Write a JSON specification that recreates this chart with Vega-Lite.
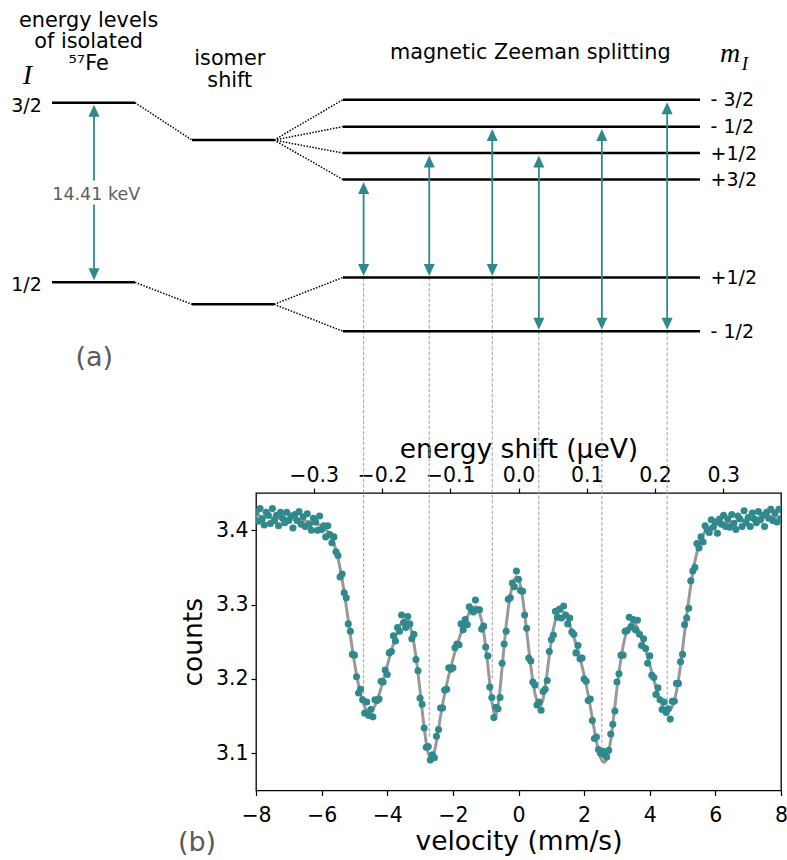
{
  "$schema": "https://vega.github.io/schema/vega-lite/v6.json",
  "width": 525,
  "height": 297.5,
  "autosize": {"type": "none"},
  "padding": {"left": 256, "top": 493, "right": 6, "bottom": 69.5},
  "config": {
    "font": "DejaVu Sans",
    "view": {"stroke": "#000000", "strokeWidth": 1.3},
    "axis": {
      "domain": false, "grid": false,
      "tickColor": "#000000", "tickSize": 5, "tickWidth": 1.2,
      "labelColor": "#000000", "labelFontSize": 20.5, "labelFont": "DejaVu Sans",
      "labelFlush": false, "labelOverlap": false, "labelPadding": 3,
      "titleFont": "DejaVu Sans", "titleFontSize": 26.5, "titleFontWeight": "normal", "titleColor": "#000000"
    }
  },
  "datasets": {
    "spec": [
      {"v":-8,"f":3.419,"c":3.424},{"v":-7.9375,"f":3.419,"c":3.412},{"v":-7.875,"f":3.419,"c":3.429},{"v":-7.8125,"f":3.418,"c":3.415},
      {"v":-7.75,"f":3.418,"c":3.407},{"v":-7.6875,"f":3.418,"c":3.424},{"v":-7.625,"f":3.418,"c":3.420},{"v":-7.5625,"f":3.417,"c":3.409},
      {"v":-7.5,"f":3.417,"c":3.429},{"v":-7.4375,"f":3.417,"c":3.413},{"v":-7.375,"f":3.417,"c":3.420},{"v":-7.3125,"f":3.416,"c":3.406},
      {"v":-7.25,"f":3.416,"c":3.424},{"v":-7.1875,"f":3.416,"c":3.416},{"v":-7.125,"f":3.416,"c":3.410},{"v":-7.0625,"f":3.415,"c":3.424},
      {"v":-7,"f":3.415,"c":3.413},{"v":-6.9375,"f":3.415,"c":3.419},{"v":-6.875,"f":3.415,"c":3.403},{"v":-6.8125,"f":3.414,"c":3.421},
      {"v":-6.75,"f":3.414,"c":3.413},{"v":-6.6875,"f":3.414,"c":3.425},{"v":-6.625,"f":3.413,"c":3.408},{"v":-6.5625,"f":3.413,"c":3.418},
      {"v":-6.5,"f":3.412,"c":3.405},{"v":-6.4375,"f":3.412,"c":3.422},{"v":-6.375,"f":3.411,"c":3.408},{"v":-6.3125,"f":3.411,"c":3.400},
      {"v":-6.25,"f":3.410,"c":3.416},{"v":-6.1875,"f":3.409,"c":3.411},{"v":-6.125,"f":3.408,"c":3.400},{"v":-6.0625,"f":3.407,"c":3.419},
      {"v":-6,"f":3.405,"c":3.401},{"v":-5.9375,"f":3.403,"c":3.406},{"v":-5.875,"f":3.401,"c":3.391},{"v":-5.8125,"f":3.398,"c":3.406},
      {"v":-5.75,"f":3.394,"c":3.394},{"v":-5.6875,"f":3.389,"c":3.383},{"v":-5.625,"f":3.382,"c":3.391},{"v":-5.5625,"f":3.373,"c":3.371},
      {"v":-5.5,"f":3.362,"c":3.366},{"v":-5.4375,"f":3.349,"c":3.337},{"v":-5.375,"f":3.334,"c":3.341},{"v":-5.3125,"f":3.317,"c":3.316},
      {"v":-5.25,"f":3.298,"c":3.309},{"v":-5.1875,"f":3.279,"c":3.274},{"v":-5.125,"f":3.259,"c":3.264},{"v":-5.0625,"f":3.240,"c":3.233},
      {"v":-5,"f":3.222,"c":3.232},{"v":-4.9375,"f":3.206,"c":3.203},{"v":-4.875,"f":3.192,"c":3.181},{"v":-4.8125,"f":3.180,"c":3.186},
      {"v":-4.75,"f":3.170,"c":3.172},{"v":-4.6875,"f":3.162,"c":3.154},{"v":-4.625,"f":3.157,"c":3.169},{"v":-4.5625,"f":3.155,"c":3.151},
      {"v":-4.5,"f":3.156,"c":3.159},{"v":-4.4375,"f":3.159,"c":3.149},{"v":-4.375,"f":3.164,"c":3.172},{"v":-4.3125,"f":3.171,"c":3.171},
      {"v":-4.25,"f":3.179,"c":3.173},{"v":-4.1875,"f":3.188,"c":3.197},{"v":-4.125,"f":3.198,"c":3.196},{"v":-4.0625,"f":3.208,"c":3.212},
      {"v":-4,"f":3.218,"c":3.206},{"v":-3.9375,"f":3.228,"c":3.235},{"v":-3.875,"f":3.238,"c":3.237},{"v":-3.8125,"f":3.247,"c":3.258},
      {"v":-3.75,"f":3.256,"c":3.251},{"v":-3.6875,"f":3.264,"c":3.269},{"v":-3.625,"f":3.271,"c":3.264},{"v":-3.5625,"f":3.276,"c":3.286},
      {"v":-3.5,"f":3.279,"c":3.276},{"v":-3.4375,"f":3.280,"c":3.269},{"v":-3.375,"f":3.278,"c":3.284},{"v":-3.3125,"f":3.272,"c":3.274},
      {"v":-3.25,"f":3.262,"c":3.254},{"v":-3.1875,"f":3.248,"c":3.260},{"v":-3.125,"f":3.230,"c":3.226},{"v":-3.0625,"f":3.208,"c":3.211},
      {"v":-3,"f":3.184,"c":3.174},{"v":-2.9375,"f":3.158,"c":3.166},{"v":-2.875,"f":3.134,"c":3.134},{"v":-2.8125,"f":3.114,"c":3.108},
      {"v":-2.75,"f":3.100,"c":3.109},{"v":-2.6875,"f":3.093,"c":3.091},{"v":-2.625,"f":3.094,"c":3.098},{"v":-2.5625,"f":3.102,"c":3.094},
      {"v":-2.5,"f":3.116,"c":3.123},{"v":-2.4375,"f":3.133,"c":3.132},{"v":-2.375,"f":3.150,"c":3.161},{"v":-2.3125,"f":3.166,"c":3.161},
      {"v":-2.25,"f":3.180,"c":3.185},{"v":-2.1875,"f":3.193,"c":3.186},{"v":-2.125,"f":3.205,"c":3.215},{"v":-2.0625,"f":3.216,"c":3.213},
      {"v":-2,"f":3.226,"c":3.215},{"v":-1.9375,"f":3.236,"c":3.242},{"v":-1.875,"f":3.245,"c":3.247},{"v":-1.8125,"f":3.254,"c":3.246},
      {"v":-1.75,"f":3.262,"c":3.274},{"v":-1.6875,"f":3.270,"c":3.266},{"v":-1.625,"f":3.277,"c":3.280},{"v":-1.5625,"f":3.283,"c":3.273},
      {"v":-1.5,"f":3.289,"c":3.297},{"v":-1.4375,"f":3.293,"c":3.293},{"v":-1.375,"f":3.296,"c":3.290},{"v":-1.3125,"f":3.297,"c":3.306},
      {"v":-1.25,"f":3.295,"c":3.293},{"v":-1.1875,"f":3.289,"c":3.293},{"v":-1.125,"f":3.279,"c":3.267},{"v":-1.0625,"f":3.264,"c":3.271},
      {"v":-1,"f":3.244,"c":3.243},{"v":-0.9375,"f":3.220,"c":3.231},{"v":-0.875,"f":3.194,"c":3.189},{"v":-0.8125,"f":3.170,"c":3.175},
      {"v":-0.75,"f":3.155,"c":3.148},{"v":-0.6875,"f":3.152,"c":3.162},{"v":-0.625,"f":3.163,"c":3.160},{"v":-0.5625,"f":3.186,"c":3.175},
      {"v":-0.5,"f":3.215,"c":3.221},{"v":-0.4375,"f":3.245,"c":3.247},{"v":-0.375,"f":3.272,"c":3.264},{"v":-0.3125,"f":3.295,"c":3.307},
      {"v":-0.25,"f":3.313,"c":3.309},{"v":-0.1875,"f":3.326,"c":3.329},{"v":-0.125,"f":3.334,"c":3.324},{"v":-0.0625,"f":3.337,"c":3.345},
      {"v":0,"f":3.334,"c":3.334},{"v":0.0625,"f":3.325,"c":3.319},{"v":0.125,"f":3.309,"c":3.318},{"v":0.1875,"f":3.288,"c":3.286},
      {"v":0.25,"f":3.264,"c":3.268},{"v":0.3125,"f":3.240,"c":3.228},{"v":0.375,"f":3.217,"c":3.224},{"v":0.4375,"f":3.197,"c":3.196},
      {"v":0.5,"f":3.181,"c":3.192},{"v":0.5625,"f":3.170,"c":3.165},{"v":0.625,"f":3.164,"c":3.169},{"v":0.6875,"f":3.165,"c":3.158},
      {"v":0.75,"f":3.173,"c":3.183},{"v":0.8125,"f":3.189,"c":3.186},{"v":0.875,"f":3.209,"c":3.198},{"v":0.9375,"f":3.231,"c":3.237},
      {"v":1,"f":3.251,"c":3.253},{"v":1.0625,"f":3.267,"c":3.259},{"v":1.125,"f":3.279,"c":3.291},{"v":1.1875,"f":3.287,"c":3.283},
      {"v":1.25,"f":3.291,"c":3.294},{"v":1.3125,"f":3.292,"c":3.282},{"v":1.375,"f":3.290,"c":3.298},{"v":1.4375,"f":3.286,"c":3.286},
      {"v":1.5,"f":3.280,"c":3.274},{"v":1.5625,"f":3.273,"c":3.282},{"v":1.625,"f":3.265,"c":3.263},{"v":1.6875,"f":3.256,"c":3.260},
      {"v":1.75,"f":3.247,"c":3.235},{"v":1.8125,"f":3.238,"c":3.245},{"v":1.875,"f":3.228,"c":3.227},{"v":1.9375,"f":3.217,"c":3.228},
      {"v":2,"f":3.205,"c":3.200},{"v":2.0625,"f":3.192,"c":3.197},{"v":2.125,"f":3.178,"c":3.171},{"v":2.1875,"f":3.163,"c":3.173},
      {"v":2.25,"f":3.147,"c":3.144},{"v":2.3125,"f":3.131,"c":3.120},{"v":2.375,"f":3.116,"c":3.122},{"v":2.4375,"f":3.103,"c":3.105},
      {"v":2.5,"f":3.094,"c":3.100},{"v":2.5625,"f":3.089,"c":3.103},{"v":2.625,"f":3.088,"c":3.098},{"v":2.6875,"f":3.092,"c":3.095},
      {"v":2.75,"f":3.102,"c":3.104},{"v":2.8125,"f":3.118,"c":3.126},{"v":2.875,"f":3.139,"c":3.139},{"v":2.9375,"f":3.163,"c":3.157},
      {"v":3,"f":3.187,"c":3.196},{"v":3.0625,"f":3.209,"c":3.207},{"v":3.125,"f":3.228,"c":3.232},{"v":3.1875,"f":3.244,"c":3.232},
      {"v":3.25,"f":3.257,"c":3.264},{"v":3.3125,"f":3.266,"c":3.265},{"v":3.375,"f":3.272,"c":3.283},{"v":3.4375,"f":3.275,"c":3.270},
      {"v":3.5,"f":3.275,"c":3.280},{"v":3.5625,"f":3.273,"c":3.266},{"v":3.625,"f":3.269,"c":3.279},{"v":3.6875,"f":3.263,"c":3.260},
      {"v":3.75,"f":3.256,"c":3.245},{"v":3.8125,"f":3.248,"c":3.254},{"v":3.875,"f":3.239,"c":3.241},{"v":3.9375,"f":3.229,"c":3.221},
      {"v":4,"f":3.219,"c":3.231},{"v":4.0625,"f":3.209,"c":3.205},{"v":4.125,"f":3.199,"c":3.202},{"v":4.1875,"f":3.189,"c":3.179},
      {"v":4.25,"f":3.180,"c":3.188},{"v":4.3125,"f":3.172,"c":3.172},{"v":4.375,"f":3.165,"c":3.159},{"v":4.4375,"f":3.160,"c":3.169},
      {"v":4.5,"f":3.157,"c":3.155},{"v":4.5625,"f":3.156,"c":3.160},{"v":4.625,"f":3.158,"c":3.146},{"v":4.6875,"f":3.163,"c":3.170},
      {"v":4.75,"f":3.171,"c":3.170},{"v":4.8125,"f":3.183,"c":3.194},{"v":4.875,"f":3.199,"c":3.194},{"v":4.9375,"f":3.218,"c":3.223},
      {"v":5,"f":3.240,"c":3.233},{"v":5.0625,"f":3.263,"c":3.273},{"v":5.125,"f":3.285,"c":3.282},{"v":5.1875,"f":3.306,"c":3.295},
      {"v":5.25,"f":3.326,"c":3.332},{"v":5.3125,"f":3.343,"c":3.345},{"v":5.375,"f":3.358,"c":3.350},{"v":5.4375,"f":3.370,"c":3.382},
      {"v":5.5,"f":3.380,"c":3.376},{"v":5.5625,"f":3.388,"c":3.391},{"v":5.625,"f":3.394,"c":3.384},{"v":5.6875,"f":3.398,"c":3.406},
      {"v":5.75,"f":3.401,"c":3.401},{"v":5.8125,"f":3.403,"c":3.397},{"v":5.875,"f":3.405,"c":3.414},{"v":5.9375,"f":3.406,"c":3.404},
      {"v":6,"f":3.407,"c":3.411},{"v":6.0625,"f":3.408,"c":3.396},{"v":6.125,"f":3.408,"c":3.415},{"v":6.1875,"f":3.409,"c":3.408},
      {"v":6.25,"f":3.409,"c":3.420},{"v":6.3125,"f":3.410,"c":3.405},{"v":6.375,"f":3.410,"c":3.415},{"v":6.4375,"f":3.411,"c":3.404},
      {"v":6.5,"f":3.411,"c":3.421},{"v":6.5625,"f":3.412,"c":3.409},{"v":6.625,"f":3.412,"c":3.401},{"v":6.6875,"f":3.413,"c":3.419},
      {"v":6.75,"f":3.413,"c":3.415},{"v":6.8125,"f":3.413,"c":3.405},{"v":6.875,"f":3.414,"c":3.426},{"v":6.9375,"f":3.414,"c":3.410},
      {"v":7,"f":3.414,"c":3.417},{"v":7.0625,"f":3.415,"c":3.405},{"v":7.125,"f":3.415,"c":3.423},{"v":7.1875,"f":3.415,"c":3.415},
      {"v":7.25,"f":3.416,"c":3.410},{"v":7.3125,"f":3.416,"c":3.425},{"v":7.375,"f":3.416,"c":3.414},{"v":7.4375,"f":3.416,"c":3.420},
      {"v":7.5,"f":3.417,"c":3.405},{"v":7.5625,"f":3.417,"c":3.424},{"v":7.625,"f":3.417,"c":3.416},{"v":7.6875,"f":3.417,"c":3.428},
      {"v":7.75,"f":3.418,"c":3.413},{"v":7.8125,"f":3.418,"c":3.423},{"v":7.875,"f":3.418,"c":3.411},{"v":7.9375,"f":3.418,"c":3.428},
      {"v":8,"f":3.418,"c":3.415}
    ],
    "dashed": [
      {"v":-4.72,"c":3.7399,"c2":3.175},{"v":-2.72,"c":3.7399,"c2":3.12},{"v":-0.80,"c":3.7399,"c2":3.20},
      {"v":0.62,"c":3.6674,"c2":3.185},{"v":2.54,"c":3.6674,"c2":3.11},{"v":4.53,"c":3.6674,"c2":3.165}
    ],
    "levels": [
      {"v":-14.217,"v2":-11.688,"c":3.9748},{"v":-14.217,"v2":-11.688,"c":3.7332},
      {"v":-9.950,"v2":-7.451,"c":3.9245},{"v":-9.950,"v2":-7.451,"c":3.7037},
      {"v":-5.349,"v2":5.531,"c":3.9789},{"v":-5.349,"v2":5.531,"c":3.9426},{"v":-5.349,"v2":5.531,"c":3.9070},
      {"v":-5.349,"v2":5.531,"c":3.8715},{"v":-5.349,"v2":5.531,"c":3.7399},{"v":-5.349,"v2":5.531,"c":3.6674}
    ],
    "connectors": [
      {"v":-11.688,"c":3.9748,"v2":-9.950,"c2":3.9245},{"v":-11.688,"c":3.7332,"v2":-9.950,"c2":3.7037},
      {"v":-7.451,"c":3.9245,"v2":-5.349,"c2":3.9789},{"v":-7.451,"c":3.9245,"v2":-5.349,"c2":3.9426},
      {"v":-7.451,"c":3.9245,"v2":-5.349,"c2":3.9070},{"v":-7.451,"c":3.9245,"v2":-5.349,"c2":3.8715},
      {"v":-7.451,"c":3.7037,"v2":-5.349,"c2":3.7399},{"v":-7.451,"c":3.7037,"v2":-5.349,"c2":3.6674}
    ],
    "shafts": [
      {"v":-12.937,"c":3.9641,"c2":3.8701},{"v":-12.937,"c":3.8379,"c2":3.7439},
      {"v":-4.72,"c":3.8601,"c2":3.7499},{"v":-2.72,"c":3.8957,"c2":3.7499},{"v":-0.80,"c":3.9313,"c2":3.7499},
      {"v":0.62,"c":3.8957,"c2":3.6775},{"v":2.54,"c":3.9313,"c2":3.6775},{"v":4.53,"c":3.9675,"c2":3.6775}
    ],
    "headsUp": [
      {"v":-12.937,"c":3.9721},{"v":-4.72,"c":3.8681},{"v":-2.72,"c":3.9037},{"v":-0.80,"c":3.9393},
      {"v":0.62,"c":3.9037},{"v":2.54,"c":3.9393},{"v":4.53,"c":3.9755}
    ],
    "headsDown": [
      {"v":-12.937,"c":3.7359},{"v":-4.72,"c":3.7419},{"v":-2.72,"c":3.7419},{"v":-0.80,"c":3.7419},
      {"v":0.62,"c":3.6695},{"v":2.54,"c":3.6695},{"v":4.53,"c":3.6695}
    ],
    "headers": [
      {"v":-13.10,"c":4.0759,"t":"energy levels"},{"v":-13.10,"c":4.0483,"t":"of isolated"},{"v":-13.10,"c":4.0191,"t":"⁵⁷Fe"},
      {"v":-8.80,"c":4.0254,"t":"isomer"},{"v":-8.80,"c":3.9963,"t":"shift"},
      {"v":0.36,"c":4.0335,"t":"magnetic Zeeman splitting"}
    ],
    "leftLabels": [
      {"v":-14.53,"c":3.9628,"t":"3/2"},{"v":-14.53,"c":3.7218,"t":"1/2"}
    ],
    "rightLabels": [
      {"v":5.854,"c":3.9701,"t":"- 3/2"},{"v":5.854,"c":3.9339,"t":"- 1/2"},{"v":5.854,"c":3.8983,"t":"+1/2"},
      {"v":5.854,"c":3.8628,"t":"+3/2"},{"v":5.854,"c":3.7312,"t":"+1/2"},{"v":5.854,"c":3.6587,"t":"- 1/2"}
    ],
    "mathBig": [
      {"v":-14.964,"c":4.0,"t":"I"},{"v":6.45,"c":4.0289,"t":"m"}
    ],
    "mathSub": [
      {"v":6.80,"c":4.0187,"t":"I"}
    ],
    "energyLabel": [
      {"v":-12.87,"c":3.8433,"t":"14.41 keV"}
    ],
    "panelLabels": [
      {"v":-12.93,"c":3.6205,"t":"(a)"},{"v":-9.798,"c":2.9681,"t":"(b)"}
    ]
  },
  "layer": [
    {
      "data": {"name": "dashed"},
      "mark": {"type": "rule", "color": "#a0a0a0", "strokeWidth": 1, "strokeDash": [3.5, 1.8]},
      "encoding": {
        "x": {"field": "v", "type": "quantitative", "scale": {"domain": [-8, 8], "nice": false, "zero": false}, "axis": null},
        "y": {"field": "c", "type": "quantitative", "scale": {"domain": [3.05, 3.45], "nice": false, "zero": false}, "axis": null},
        "y2": {"field": "c2"}
      }
    },
    {
      "data": {"name": "spec"},
      "mark": {"type": "line", "color": "#999999", "strokeWidth": 3, "clip": true},
      "encoding": {
        "x": {"field": "v", "type": "quantitative", "scale": {"domain": [-8, 8], "nice": false, "zero": false},
              "axis": {"orient": "top", "values": [-6.2402, -4.1601, -2.0801, 0, 2.0801, 4.1601, 6.2402],
                       "labelExpr": "format(datum.value * 0.048075, '.1f')", "title": "energy shift (µeV)", "titlePadding": 2}},
        "y": {"field": "f", "type": "quantitative", "scale": {"domain": [3.05, 3.45], "nice": false, "zero": false}, "axis": null}
      }
    },
    {
      "data": {"name": "spec"},
      "mark": {"type": "circle", "color": "#2f898d", "opacity": 1, "size": 50, "clip": true},
      "encoding": {
        "x": {"field": "v", "type": "quantitative", "scale": {"domain": [-8, 8], "nice": false, "zero": false},
              "axis": {"values": [-8, -6, -4, -2, 0, 2, 4, 6, 8], "format": "d", "title": "velocity (mm/s)", "labelPadding": 10, "titlePadding": 2}},
        "y": {"field": "c", "type": "quantitative", "scale": {"domain": [3.05, 3.45], "nice": false, "zero": false},
              "axis": {"orient": "left", "values": [3.1, 3.2, 3.3, 3.4], "format": ".1f", "title": "counts", "titlePadding": 8}}
      }
    },
    {
      "data": {"name": "levels"},
      "mark": {"type": "rule", "color": "#000000", "strokeWidth": 2.5},
      "encoding": {
        "x": {"field": "v", "type": "quantitative", "scale": {"domain": [-8, 8], "nice": false, "zero": false}, "axis": null},
        "x2": {"field": "v2"},
        "y": {"field": "c", "type": "quantitative", "scale": {"domain": [3.05, 3.45], "nice": false, "zero": false}, "axis": null}
      }
    },
    {
      "data": {"name": "connectors"},
      "mark": {"type": "rule", "color": "#000000", "strokeWidth": 1.5, "strokeDash": [1.5, 1.5]},
      "encoding": {
        "x": {"field": "v", "type": "quantitative", "scale": {"domain": [-8, 8], "nice": false, "zero": false}, "axis": null},
        "x2": {"field": "v2"},
        "y": {"field": "c", "type": "quantitative", "scale": {"domain": [3.05, 3.45], "nice": false, "zero": false}, "axis": null},
        "y2": {"field": "c2"}
      }
    },
    {
      "data": {"name": "shafts"},
      "mark": {"type": "rule", "color": "#2f898d", "strokeWidth": 1.8},
      "encoding": {
        "x": {"field": "v", "type": "quantitative", "scale": {"domain": [-8, 8], "nice": false, "zero": false}, "axis": null},
        "y": {"field": "c", "type": "quantitative", "scale": {"domain": [3.05, 3.45], "nice": false, "zero": false}, "axis": null},
        "y2": {"field": "c2"}
      }
    },
    {
      "data": {"name": "headsUp"},
      "mark": {"type": "point", "shape": "M0,0L0.92,2L-0.92,2Z", "size": 144, "filled": true, "color": "#2f898d", "opacity": 1, "strokeWidth": 0},
      "encoding": {
        "x": {"field": "v", "type": "quantitative", "scale": {"domain": [-8, 8], "nice": false, "zero": false}, "axis": null},
        "y": {"field": "c", "type": "quantitative", "scale": {"domain": [3.05, 3.45], "nice": false, "zero": false}, "axis": null}
      }
    },
    {
      "data": {"name": "headsDown"},
      "mark": {"type": "point", "shape": "M0,0L0.92,-2L-0.92,-2Z", "size": 144, "filled": true, "color": "#2f898d", "opacity": 1, "strokeWidth": 0},
      "encoding": {
        "x": {"field": "v", "type": "quantitative", "scale": {"domain": [-8, 8], "nice": false, "zero": false}, "axis": null},
        "y": {"field": "c", "type": "quantitative", "scale": {"domain": [3.05, 3.45], "nice": false, "zero": false}, "axis": null}
      }
    },
    {
      "data": {"name": "headers"},
      "mark": {"type": "text", "font": "DejaVu Sans", "fontSize": 20.8, "color": "#000000", "align": "center", "baseline": "alphabetic"},
      "encoding": {
        "x": {"field": "v", "type": "quantitative", "scale": {"domain": [-8, 8], "nice": false, "zero": false}, "axis": null},
        "y": {"field": "c", "type": "quantitative", "scale": {"domain": [3.05, 3.45], "nice": false, "zero": false}, "axis": null},
        "text": {"field": "t"}
      }
    },
    {
      "data": {"name": "leftLabels"},
      "mark": {"type": "text", "font": "DejaVu Sans", "fontSize": 19, "color": "#000000", "align": "right", "baseline": "alphabetic"},
      "encoding": {
        "x": {"field": "v", "type": "quantitative", "scale": {"domain": [-8, 8], "nice": false, "zero": false}, "axis": null},
        "y": {"field": "c", "type": "quantitative", "scale": {"domain": [3.05, 3.45], "nice": false, "zero": false}, "axis": null},
        "text": {"field": "t"}
      }
    },
    {
      "data": {"name": "rightLabels"},
      "mark": {"type": "text", "font": "DejaVu Sans", "fontSize": 19, "color": "#000000", "align": "left", "baseline": "alphabetic"},
      "encoding": {
        "x": {"field": "v", "type": "quantitative", "scale": {"domain": [-8, 8], "nice": false, "zero": false}, "axis": null},
        "y": {"field": "c", "type": "quantitative", "scale": {"domain": [3.05, 3.45], "nice": false, "zero": false}, "axis": null},
        "text": {"field": "t"}
      }
    },
    {
      "data": {"name": "mathBig"},
      "mark": {"type": "text", "font": "Liberation Serif", "fontStyle": "italic", "fontSize": 28, "color": "#000000", "align": "center", "baseline": "alphabetic"},
      "encoding": {
        "x": {"field": "v", "type": "quantitative", "scale": {"domain": [-8, 8], "nice": false, "zero": false}, "axis": null},
        "y": {"field": "c", "type": "quantitative", "scale": {"domain": [3.05, 3.45], "nice": false, "zero": false}, "axis": null},
        "text": {"field": "t"}
      }
    },
    {
      "data": {"name": "mathSub"},
      "mark": {"type": "text", "font": "Liberation Serif", "fontStyle": "italic", "fontSize": 19, "color": "#000000", "align": "left", "baseline": "alphabetic"},
      "encoding": {
        "x": {"field": "v", "type": "quantitative", "scale": {"domain": [-8, 8], "nice": false, "zero": false}, "axis": null},
        "y": {"field": "c", "type": "quantitative", "scale": {"domain": [3.05, 3.45], "nice": false, "zero": false}, "axis": null},
        "text": {"field": "t"}
      }
    },
    {
      "data": {"name": "energyLabel"},
      "mark": {"type": "text", "font": "DejaVu Sans", "fontSize": 17.5, "color": "#606060", "align": "center", "baseline": "alphabetic"},
      "encoding": {
        "x": {"field": "v", "type": "quantitative", "scale": {"domain": [-8, 8], "nice": false, "zero": false}, "axis": null},
        "y": {"field": "c", "type": "quantitative", "scale": {"domain": [3.05, 3.45], "nice": false, "zero": false}, "axis": null},
        "text": {"field": "t"}
      }
    },
    {
      "data": {"name": "panelLabels"},
      "mark": {"type": "text", "font": "DejaVu Sans", "fontSize": 27, "color": "#5a5a5a", "align": "center", "baseline": "alphabetic"},
      "encoding": {
        "x": {"field": "v", "type": "quantitative", "scale": {"domain": [-8, 8], "nice": false, "zero": false}, "axis": null},
        "y": {"field": "c", "type": "quantitative", "scale": {"domain": [3.05, 3.45], "nice": false, "zero": false}, "axis": null},
        "text": {"field": "t"}
      }
    }
  ],
  "resolve": {"axis": {"x": "independent", "y": "independent"}}
}
